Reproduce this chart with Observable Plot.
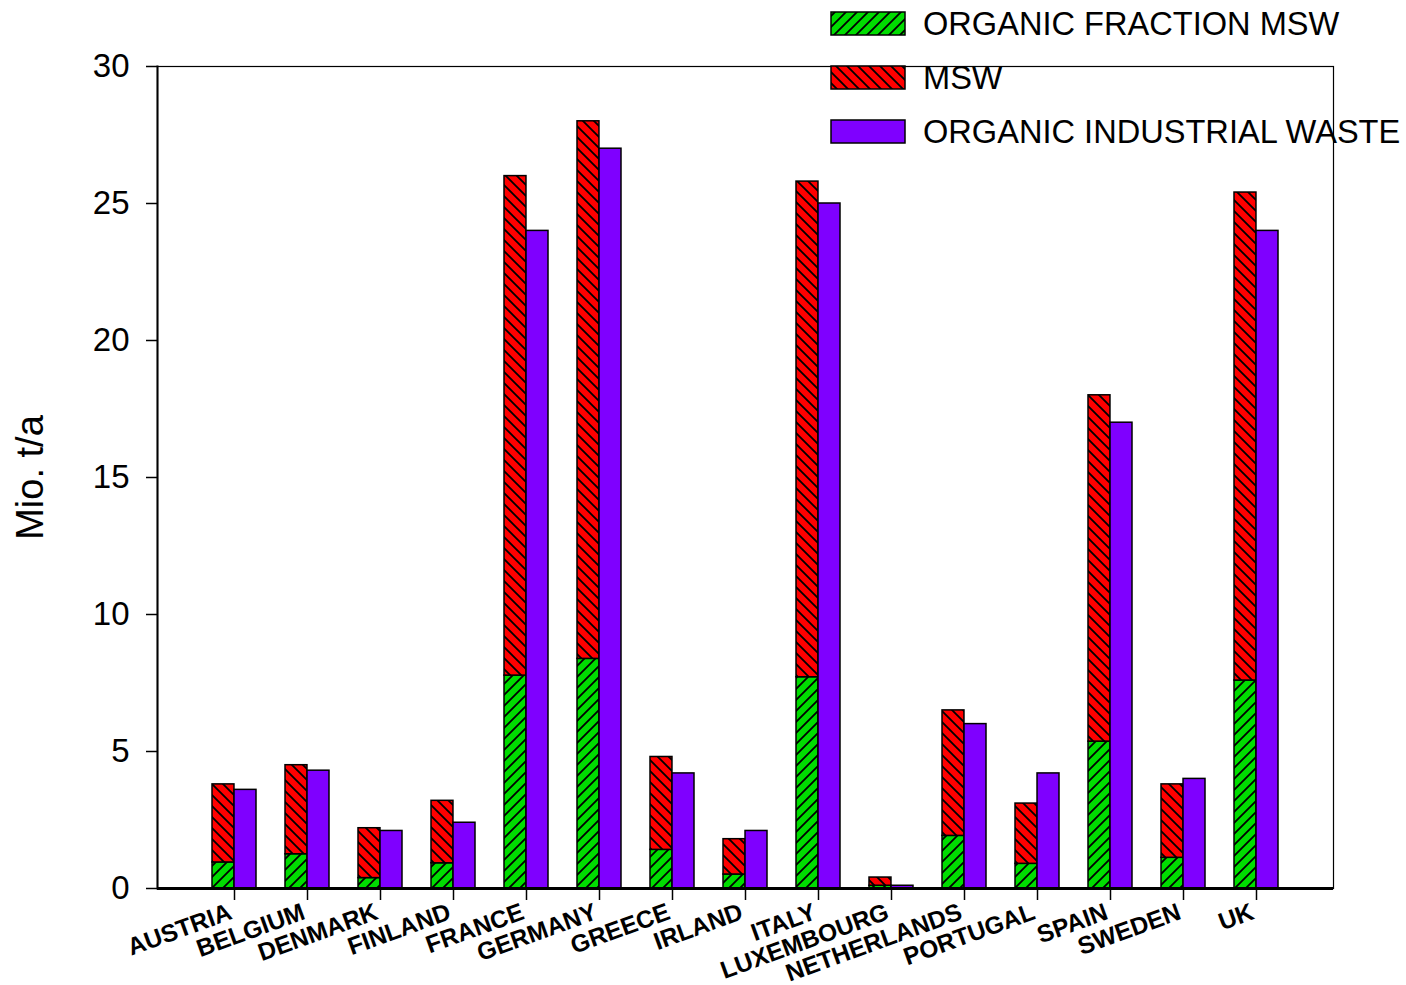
<!DOCTYPE html>
<html><head><meta charset="utf-8">
<script src="https://cdn.jsdelivr.net/npm/d3@7"></script>
<script src="https://cdn.jsdelivr.net/npm/@observablehq/plot@0.6"></script>
<style>
body{margin:0;background:#fff;font-family:"Liberation Sans",Arial,sans-serif;}
#wrap{position:relative;width:1406px;height:985px;}
#legend{position:absolute;left:0;top:0;pointer-events:none;overflow:visible;}
</style></head><body>
<svg width="0" height="0" style="position:absolute">
<defs>
<pattern id="hatchGreen" patternUnits="userSpaceOnUse" width="11" height="11">
<rect width="11" height="11" fill="#00dd00"/>
<path d="M-1,1 L1,-1 M0,11 L11,0 M10,12 L12,10" stroke="#000" stroke-width="1.8"/>
</pattern>
<pattern id="hatchRed" patternUnits="userSpaceOnUse" width="11" height="11">
<rect width="11" height="11" fill="#ff0000"/>
<path d="M-1,10 L1,12 M0,0 L11,11 M10,-1 L12,1" stroke="#000" stroke-width="1.8"/>
</pattern>
</defs></svg>
<div id="wrap"></div>
<script>
const countries = ["AUSTRIA","BELGIUM","DENMARK","FINLAND","FRANCE","GERMANY","GREECE","IRLAND","ITALY","LUXEMBOURG","NETHERLANDS","PORTUGAL","SPAIN","SWEDEN","UK"];
const organicMSW = [0.95,1.25,0.38,0.92,7.77,8.38,1.41,0.51,7.71,0.1,1.92,0.9,5.36,1.12,7.59];
const msw        = [3.8,4.5,2.2,3.2,26.0,28.0,4.8,1.8,25.8,0.4,6.5,3.1,18.0,3.8,25.4];
const industrial = [3.6,4.3,2.1,2.4,24.0,27.0,4.2,2.1,25.0,0.1,6.0,4.2,17.0,4.0,24.0];
const yTicks = [0,5,10,15,20,25,30];
const yLabel = "Mio. t/a";
const seriesNames = ["ORGANIC FRACTION MSW","MSW","ORGANIC INDUSTRIAL WASTE"];
const seriesFills = ["url(#hatchGreen)","url(#hatchRed)","#7f00ff"];

const rows = countries.map((c,i)=>({country:c, organic:organicMSW[i], msw:msw[i], industrial:industrial[i]}));

const W=1406,H=985,mL=157,mR=73,mT=66,mB=97;
const pI=0.4,pO=0.708;
const step=(W-mL-mR)/(countries.length-pI+2*pO);
const half=step*(1-pI)/2;
const font='"Liberation Sans", Arial, sans-serif';

const chart = Plot.plot({
  width:W,height:H,marginLeft:mL,marginRight:mR,marginTop:mT,marginBottom:mB,
  style:{fontFamily:font,background:"white",overflow:"visible",color:"black"},
  x:{domain:countries,paddingInner:pI,paddingOuter:pO,axis:null},
  y:{domain:[0,30],axis:null},
  marks:[
    Plot.barY(rows,{x:"country",y1:0,y2:"organic",fill:seriesFills[0],stroke:"black",strokeWidth:1.5,insetLeft:0,insetRight:half}),
    Plot.barY(rows,{x:"country",y1:"organic",y2:"msw",fill:seriesFills[1],stroke:"black",strokeWidth:1.5,insetLeft:0,insetRight:half}),
    Plot.barY(rows,{x:"country",y1:0,y2:"industrial",fill:seriesFills[2],stroke:"black",strokeWidth:1.5,insetLeft:half,insetRight:0}),
    Plot.frame({stroke:"black",strokeWidth:1.2}),
    Plot.frame({anchor:"left",stroke:"black",strokeWidth:2}),
    Plot.ruleY([0],{stroke:"black",strokeWidth:3}),
    Plot.axisY({ticks:yTicks,tickSize:11,tickPadding:17,fontSize:33,tickFormat:d=>String(d),label:null,strokeWidth:1.5}),
    Plot.axisX({tickSize:12,tickFormat:()=>"",label:null,strokeWidth:1.5}),
    Plot.text(countries,{x:d=>d,frameAnchor:"bottom",dy:30,dx:-1,rotate:-20,textAnchor:"end",lineAnchor:"bottom",fontSize:24.5,fontWeight:"bold",fill:"black"}),
    Plot.text([yLabel],{frameAnchor:"left",dx:-127,rotate:-90,textAnchor:"middle",lineAnchor:"middle",fontSize:38,fill:"black"})
  ]
});
const wrap=document.getElementById("wrap");
wrap.appendChild(chart);

// legend overlay
const leg=d3.select(wrap).append("svg").attr("id","legend").attr("width",W).attr("height",160);
seriesNames.forEach((name,i)=>{
  const y0=12+i*54;
  leg.append("rect").attr("x",831).attr("y",y0).attr("width",74).attr("height",23)
    .attr("fill",seriesFills[i]).attr("stroke","black").attr("stroke-width",1.5);
  leg.append("text").attr("x",923).attr("y",y0+23).attr("font-size",32.6).attr("font-family",font)
    .attr("fill","black").text(name);
});
</script>
</body></html>
